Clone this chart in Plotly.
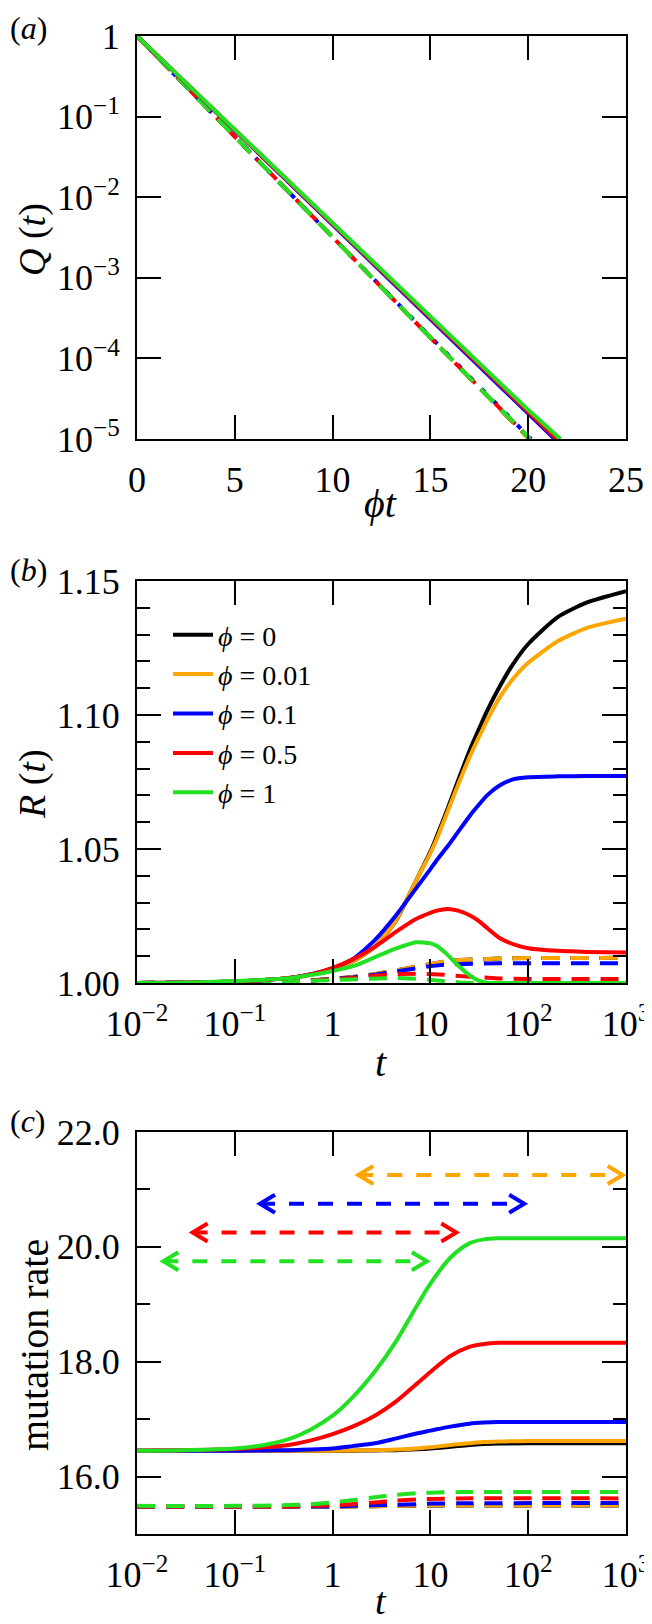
import numpy as np
import plotly.graph_objects as go

FONT = "Liberation Serif, Times New Roman, Times, serif"
COL = {"k": "#000000", "o": "#FFA500", "b": "#0000FF", "r": "#FF0000", "g": "#22E022"}
ORDER = ["k", "o", "b", "r", "g"]
LEG = {"k": "0", "o": "0.01", "b": "0.1", "r": "0.5", "g": "1"}

# ---------------- panel (a): Q(t) vs phi*t ----------------
a_x_solid = {"k": [0, 5, 10, 15, 20, 21.40], "o": [0, 5, 10, 15, 20, 21.45],
             "b": [0, 5, 10, 15, 20, 21.35], "r": [0, 5, 10, 15, 20, 21.45],
             "g": [0, 5, 10, 15, 20, 21.65]}
a_q_solid = {"k": [1, 6.8e-2, 4.6e-3, 3.2e-4, 2.1e-5, 1e-5],
             "o": [1, 6.8e-2, 4.6e-3, 3.2e-4, 2.15e-5, 1e-5],
             "b": [1, 6.7e-2, 4.5e-3, 3.1e-4, 2.05e-5, 1e-5],
             "r": [1, 6.8e-2, 4.6e-3, 3.2e-4, 2.15e-5, 1e-5],
             "g": [1, 6.9e-2, 4.8e-3, 3.3e-4, 2.3e-5, 1e-5]}
a_x_dash = {"k": [0, 4, 10, 16, 20.05], "o": [0, 4, 10, 16, 20.05],
            "b": [0, 4, 10, 16, 20.15], "r": [0, 4, 10, 16, 20.1],
            "g": [0, 4, 10, 16, 20.1]}
a_q_dash = {"k": [1, 1.0e-1, 3.2e-3, 1.0e-4, 1e-5], "o": [1, 1.0e-1, 3.2e-3, 1.0e-4, 1e-5],
            "b": [1, 1.0e-1, 3.2e-3, 1.05e-4, 1e-5], "r": [1, 1.0e-1, 3.2e-3, 1.02e-4, 1e-5],
            "g": [1, 1.0e-1, 3.2e-3, 1.02e-4, 1e-5]}
a_xticks = [0, 5, 10, 15, 20, 25]
a_yticks = [1, 1e-1, 1e-2, 1e-3, 1e-4, 1e-5]
a_yticktext = ["1", "10<sup>−1</sup>", "10<sup>−2</sup>", "10<sup>−3</sup>", "10<sup>−4</sup>", "10<sup>−5</sup>"]

# ---------------- panel (b): R(t) ----------------
b_t = [0.01, 0.03, 0.1, 0.2, 0.38, 0.6, 1, 1.65, 2.7, 4.4, 7.2, 10, 11.7, 15, 19.2,
       26, 31.6, 38, 50, 70, 100, 200, 400, 1000]
b_solid = {
    "k": [1.0, 1.0001, 1.0006, 1.0011, 1.002, 1.0032, 1.005, 1.0083, 1.0135, 1.023, 1.0385,
          1.049, 1.055, 1.065, 1.0756, 1.088, 1.095, 1.1015, 1.110, 1.119, 1.1265, 1.1365, 1.142, 1.1462],
    "o": [1.0, 1.0001, 1.0006, 1.0011, 1.002, 1.0032, 1.005, 1.0083, 1.0135, 1.023, 1.0385,
          1.0485, 1.054, 1.064, 1.074, 1.0855, 1.092, 1.098, 1.106, 1.1135, 1.1195, 1.1275, 1.1325, 1.1359],
    "b": [1.0, 1.0001, 1.0006, 1.0011, 1.002, 1.0033, 1.0055, 1.0092, 1.016, 1.025, 1.0355,
          1.0425, 1.046, 1.051, 1.0564, 1.063, 1.0667, 1.070, 1.0735, 1.076, 1.0768, 1.0771, 1.0772, 1.0772],
    "r": [1.0, 1.0001, 1.0006, 1.0011, 1.002, 1.0032, 1.0056, 1.009, 1.0135, 1.019, 1.024,
          1.0262, 1.027, 1.0276, 1.027, 1.025, 1.023, 1.0205, 1.017, 1.0145, 1.013, 1.012, 1.0116, 1.0114],
    "g": [1.0, 1.0001, 1.0007, 1.0012, 1.0019, 1.003, 1.0045, 1.0064, 1.0096, 1.0128, 1.0152,
          1.0148, 1.0138, 1.0105, 1.0065, 1.0025, 1.0008, 1.0001, 1.0, 1.0, 1.0, 1.0, 1.0, 1.0],
}
b_td = [0.01, 0.1, 0.3, 0.6, 1, 1.6, 2.7, 4.4, 7.2, 10, 15, 20, 30, 50, 100, 1000]
b_dash = {
    "k": [1.0, 1.0001, 1.0004, 1.0009, 1.0014, 1.0022, 1.0033, 1.0047, 1.0064, 1.0074, 1.0082,
          1.0086, 1.0089, 1.0091, 1.0093, 1.0094],
    "o": [1.0, 1.0001, 1.0004, 1.0009, 1.0014, 1.0022, 1.0033, 1.0047, 1.0064, 1.0074, 1.0082,
          1.0086, 1.0089, 1.0091, 1.0093, 1.0094],
    "b": [1.0, 1.0001, 1.0004, 1.0009, 1.0014, 1.0021, 1.0031, 1.0043, 1.0056, 1.0063, 1.0069,
          1.0071, 1.0073, 1.0074, 1.0074, 1.0074],
    "r": [1.0, 1.0001, 1.0004, 1.0009, 1.0013, 1.0019, 1.0027, 1.0033, 1.0035, 1.0034, 1.003,
          1.0026, 1.0021, 1.0017, 1.0015, 1.0015],
    "g": [1.0, 1.0001, 1.0004, 1.0008, 1.0011, 1.0015, 1.0018, 1.0019, 1.0016, 1.0011, 1.0005,
          1.0002, 1.0, 1.0, 1.0, 1.0],
}
log_tickvals = [0.01, 0.1, 1, 10, 100, 1000]
log_ticktext = ["10<sup>−2</sup>", "10<sup>−1</sup>", "1", "10", "10<sup>2</sup>", "10<sup>3</sup>"]
b_yticks = [1.00, 1.05, 1.10, 1.15]
b_yticktext = ["1.00", "1.05", "1.10", "1.15"]
b_yminor = [1.01, 1.02, 1.03, 1.04, 1.06, 1.07, 1.08, 1.09, 1.11, 1.12, 1.13, 1.14]

# ---------------- panel (c): mutation rate ----------------
c_t = [0.01, 0.03, 0.1, 0.2, 0.38, 0.6, 1, 1.6, 2.7, 4.4, 7.2, 10, 16, 25, 35, 50, 100, 1000]
c_solid = {
    "k": [16.45, 16.45, 16.45, 16.45, 16.45, 16.45, 16.45, 16.45, 16.455, 16.46, 16.475,
          16.49, 16.52, 16.55, 16.565, 16.575, 16.58, 16.58],
    "o": [16.45, 16.45, 16.45, 16.45, 16.45, 16.45, 16.45, 16.455, 16.46, 16.47, 16.49,
          16.51, 16.55, 16.58, 16.60, 16.61, 16.62, 16.62],
    "b": [16.45, 16.45, 16.45, 16.455, 16.46, 16.47, 16.49, 16.53, 16.58, 16.66, 16.75,
          16.80, 16.87, 16.92, 16.94, 16.95, 16.95, 16.95],
    "r": [16.45, 16.46, 16.48, 16.51, 16.56, 16.63, 16.74, 16.87, 17.06, 17.30, 17.61,
          17.82, 18.10, 18.26, 18.31, 18.33, 18.33, 18.33],
    "g": [16.45, 16.46, 16.49, 16.55, 16.67, 16.82, 17.06, 17.38, 17.83, 18.34, 18.96,
          19.36, 19.81, 20.06, 20.13, 20.15, 20.15, 20.15],
}
c_td = [0.01, 0.1, 0.3, 0.6, 1, 1.6, 2.7, 4.4, 7.2, 10, 20, 1000]
c_dash = {
    "k": [15.48, 15.48, 15.48, 15.48, 15.48, 15.48, 15.485, 15.49, 15.49, 15.495, 15.495, 15.495],
    "o": [15.48, 15.48, 15.48, 15.48, 15.48, 15.48, 15.485, 15.49, 15.495, 15.50, 15.50, 15.50],
    "b": [15.48, 15.48, 15.48, 15.48, 15.48, 15.49, 15.50, 15.51, 15.52, 15.53, 15.535, 15.54],
    "r": [15.48, 15.48, 15.48, 15.49, 15.50, 15.52, 15.55, 15.58, 15.60, 15.61, 15.62, 15.62],
    "g": [15.49, 15.49, 15.50, 15.52, 15.55, 15.59, 15.64, 15.68, 15.71, 15.72, 15.73, 15.73],
}
c_yticks = [16, 18, 20, 22]
c_yticktext = ["16.0", "18.0", "20.0", "22.0"]
c_yminor = [15, 17, 19, 21]
# arrows: colour, left t, right t, level
arrow_keys = ["o", "b", "r", "g"]
arrow_left = [1.83, 0.181, 0.037, 0.0186]
arrow_right = [925, 91, 18.4, 9.2]
arrow_level = [21.25, 20.75, 20.25, 19.75]

# ---------------- figure ----------------
# the page body has an 8px margin, so the figure is drawn 8px smaller
OFF = 8
W, H = 652 - OFF, 1624 - OFF
def fx(px):
    return (px - OFF) / W
def fy(py):
    return 1 - (py - OFF) / H

fig = go.Figure()
LW = 4
DASH_CURVE = "18px,11px"
DASH_ARROW = "15px,14px"
DASH_A = {"k": "18px,11px", "o": "18px,11px", "b": "5px,12px", "r": "10px,9px", "g": "18px,11px"}

for k in ORDER:
    fig.add_trace(go.Scatter(x=a_x_dash[k], y=a_q_dash[k], mode="lines", xaxis="x", yaxis="y",
                             line=dict(color=COL[k], width=LW, dash=DASH_A[k]), showlegend=False))
for k in ORDER:
    fig.add_trace(go.Scatter(x=a_x_solid[k], y=a_q_solid[k], mode="lines", xaxis="x", yaxis="y",
                             line=dict(color=COL[k], width=LW if k != "k" else 2), showlegend=False))

for k in ORDER:
    fig.add_trace(go.Scatter(x=b_td, y=b_dash[k], mode="lines", xaxis="x2", yaxis="y2",
                             line=dict(color=COL[k], width=LW, dash=DASH_CURVE), showlegend=False))
for k in ORDER:
    fig.add_trace(go.Scatter(x=b_t, y=b_solid[k], mode="lines", xaxis="x2", yaxis="y2",
                             line=dict(color=COL[k], width=LW, shape="spline", smoothing=0.6),
                             name="<i>ϕ</i> = " + LEG[k], showlegend=True))

for k in ORDER:
    fig.add_trace(go.Scatter(x=c_td, y=c_dash[k], mode="lines", xaxis="x3", yaxis="y3",
                             line=dict(color=COL[k], width=LW, dash=DASH_CURVE, shape="spline", smoothing=0.6),
                             showlegend=False))
for k in ORDER:
    fig.add_trace(go.Scatter(x=c_t, y=c_solid[k], mode="lines", xaxis="x3", yaxis="y3",
                             line=dict(color=COL[k], width=LW, shape="spline", smoothing=0.9),
                             showlegend=False))

# double-headed dashed arrows
DEC_PER_PX = 5.0 / 489.0
UNIT_PER_PX = 7.0 / 402.0
ax_off = 10 ** (15 * DEC_PER_PX)
ay_off = 9 * UNIT_PER_PX
for k, tl, tr, v in zip(arrow_keys, arrow_left, arrow_right, arrow_level):
    fig.add_trace(go.Scatter(x=[tl, tr], y=[v, v], mode="lines", xaxis="x3", yaxis="y3",
                             line=dict(color=COL[k], width=LW, dash=DASH_ARROW), showlegend=False))
    fig.add_trace(go.Scatter(x=[tl * ax_off, tl, tl * ax_off, None, tr / ax_off, tr, tr / ax_off],
                             y=[v + ay_off, v, v - ay_off, None, v + ay_off, v, v - ay_off],
                             mode="lines", xaxis="x3", yaxis="y3",
                             line=dict(color=COL[k], width=LW), showlegend=False))

TICKFONT = dict(family=FONT, size=36, color="black")
base = dict(showline=True, linecolor="black", linewidth=2, mirror="ticks", ticks="inside",
            ticklen=24, tickwidth=1.5, tickcolor="black", showgrid=False, zeroline=False,
            tickfont=TICKFONT, ticklabelstandoff=8, automargin=False)

xdom = [fx(137), fx(626)]
def ydom(top, bot):
    return [fy(bot), fy(top)]

MINOR = dict(ticks="inside", ticklen=13, tickwidth=1.5, tickcolor="black")

fig.update_layout(
    template="none",
    width=W, height=H, margin=dict(l=0, r=0, t=0, b=0, autoexpand=False),
    paper_bgcolor="white", plot_bgcolor="white",
    font=dict(family=FONT, color="black"),
    xaxis=dict(base, domain=xdom, anchor="y", range=[0, 25], tickmode="array", tickvals=a_xticks),
    yaxis=dict(base, domain=ydom(36, 439), anchor="x", type="log", range=[-5, 0],
               tickmode="array", tickvals=a_yticks, ticktext=a_yticktext),
    xaxis2=dict(base, domain=xdom, anchor="y2", type="log", range=[-2, 3],
                tickmode="array", tickvals=log_tickvals, ticktext=log_ticktext),
    yaxis2=dict(base, domain=ydom(581, 983), anchor="x2", range=[1.0, 1.15],
                tickmode="array", tickvals=b_yticks, ticktext=b_yticktext,
                minor=dict(MINOR, tickvals=b_yminor)),
    xaxis3=dict(base, domain=xdom, anchor="y3", type="log", range=[-2, 3],
                tickmode="array", tickvals=log_tickvals, ticktext=log_ticktext),
    yaxis3=dict(base, domain=ydom(1132, 1534), anchor="x3", range=[15, 22],
                tickmode="array", tickvals=c_yticks, ticktext=c_yticktext,
                minor=dict(MINOR, tickvals=c_yminor)),
    legend=dict(x=fx(168), y=fy(610), xanchor="left", yanchor="top",
                font=dict(family=FONT, size=28, color="black"), bgcolor="rgba(0,0,0,0)",
                itemwidth=40, tracegroupgap=0),
    showlegend=True,
)

def ann(text, xpx, ypx, size=40, angle=0, xanchor="center", yanchor="middle"):
    fig.add_annotation(text=text, x=fx(xpx), y=fy(ypx), xref="paper", yref="paper",
                       showarrow=False, textangle=angle, xanchor=xanchor, yanchor=yanchor,
                       font=dict(family=FONT, size=size, color="black"))

ann("(<i>a</i>)", OFF, OFF, size=32, xanchor="left", yanchor="top")
ann("(<i>b</i>)", OFF, 570, size=32, xanchor="left")
ann("(<i>c</i>)", OFF, 1121, size=32, xanchor="left")
ann("<i>Q</i> (<i>t</i>)", 32, 240, size=38, angle=-90)
ann("<i>R</i> (<i>t</i>)", 32, 784, size=38, angle=-90)
ann("mutation rate", 34, 1345, size=40, angle=-90)
ann("<i>ϕt</i>", 381, 503)
ann("<i>t</i>", 381, 1062)
ann("<i>t</i>", 381, 1624, size=38, yanchor="bottom")

fig.write_html("out.html")
